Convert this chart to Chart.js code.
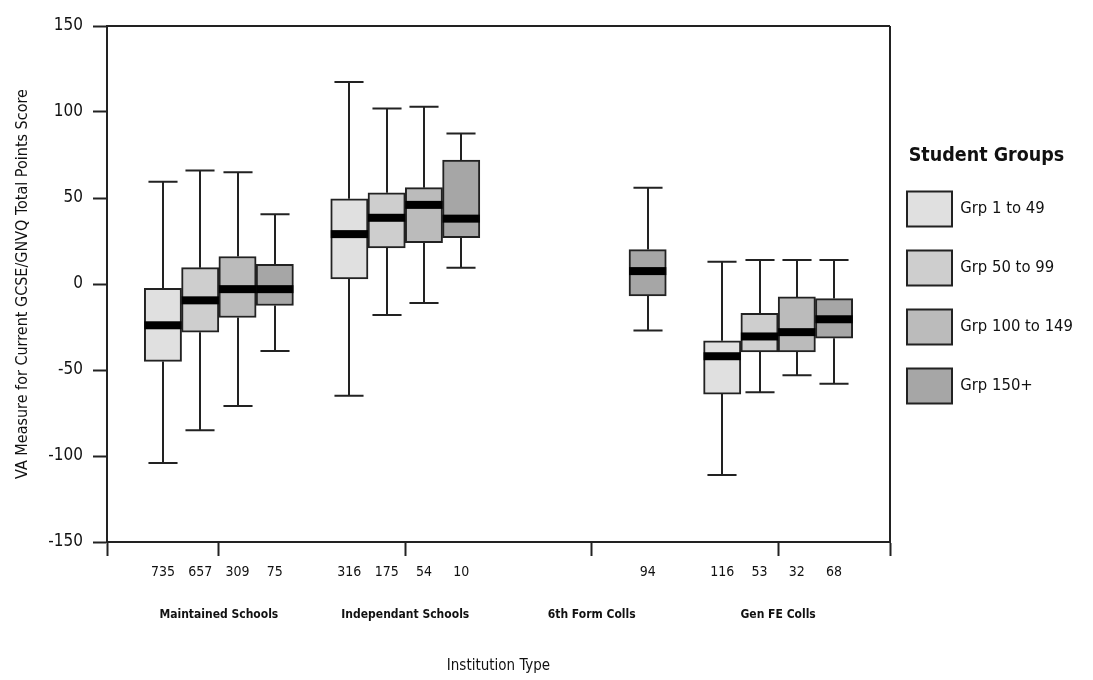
<!DOCTYPE html>
<html>
<head>
<meta charset="utf-8">
<script src="https://cdn.jsdelivr.net/npm/chart.js@4.4.1/dist/chart.umd.min.js"></script>
<style>
  html, body { margin: 0; padding: 0; background: #ffffff; }
  #wrap { width: 1093px; height: 680px; position: relative; }
</style>
</head>
<body>
<div id="wrap"><canvas id="c"></canvas></div>
<script>
// ---------------- DATA ----------------
const institutions = ['Maintained Schools', 'Independant Schools', '6th Form Colls', 'Gen FE Colls'];
const studentGroups = ['Grp 1 to 49', 'Grp 50 to 99', 'Grp 100 to 149', 'Grp 150+'];
const yTickValues = [-150, -100, -50, 0, 50, 100, 150];

// rows = student group, columns = institution (null = no box)
const counts = [
  [735, 316, null, 116],
  [657, 175, null, 53],
  [309, 54, null, 32],
  [75, 10, 94, 68]
];
const whiskerLow = [
  [-104, -65, null, -111],
  [-85, -18, null, -63],
  [-71, -11, null, -53],
  [-39, 9.5, -27, -58]
];
const quartile1 = [
  [-45, 3, null, -64],
  [-28, 21, null, -39.5],
  [-19.5, 24, null, -39.5],
  [-12.5, 27, -7, -31.5]
];
const median = [
  [-24, 29, null, -42],
  [-9.5, 38.5, null, -30.5],
  [-3, 46, null, -28],
  [-3, 38, 7.5, -20.5]
];
const quartile3 = [
  [-2.5, 49.5, null, -33],
  [9.5, 53, null, -17],
  [16, 56, null, -7.5],
  [11.5, 72, 20, -8.5]
];
const whiskerHigh = [
  [59.5, 117.5, null, 13],
  [66, 102, null, 14],
  [65, 103, null, 14],
  [40.5, 87.5, 56, 14]
];

// ---------------- STYLE ----------------
const FONT = "'Liberation Sans Narrow', 'DejaVu Sans Condensed', sans-serif";
const TEXT = '#111111';
const LINE = '#222222';
const fills = ['#e0e0e0', '#cecece', '#bbbbbb', '#a6a6a6'];

// slot layout on a linear x axis: each institution = 4 slots + 1 gap
const SLOTS = 5;
const xMax = institutions.length * SLOTS + 1;
const slotX = (g, s) => g * SLOTS + 1.5 + s;
const groupCenter = g => g * SLOTS + 3;

// build datasets
const datasets = studentGroups.map((name, s) => {
  const data = [];
  institutions.forEach((inst, g) => {
    if (quartile1[s][g] !== null) {
      data.push({ x: slotX(g, s), y: [quartile1[s][g], quartile3[s][g]], g: g });
    }
  });
  return {
    label: name,
    data: data,
    backgroundColor: fills[s],
    borderColor: LINE,
    borderWidth: 2,
    borderSkipped: false,
    grouped: false,
    barPercentage: 1,
    categoryPercentage: 1
  };
});

// count-label ticks
const countTicks = [];
const countLabels = [];
institutions.forEach((inst, g) => {
  studentGroups.forEach((grp, s) => {
    if (counts[s][g] !== null) {
      countTicks.push(slotX(g, s));
      countLabels.push(String(counts[s][g]));
    }
  });
});

// legend width so that the plot frame ends where the reference does
const LEG_FONT = 16.5, LEG_PAD = 17, LEG_BOX_W = 45, LEG_BOX_H = 35;
const mctx = document.createElement('canvas').getContext('2d');
mctx.font = LEG_FONT + 'px ' + FONT;
const maxTextW = Math.max(...studentGroups.map(t => mctx.measureText(t).width));
const legendW = LEG_PAD + LEG_BOX_W + LEG_FONT / 2 + maxTextW + 10;
const padRight = Math.max(0, 1093 - 890 - legendW);

const boxPlugin = {
  id: 'boxExtras',
  beforeDatasetsDraw(chart) {
    const ctx = chart.ctx, y = chart.scales.y;
    ctx.save();
    ctx.strokeStyle = LINE;
    ctx.lineWidth = 2;
    chart.data.datasets.forEach((ds, s) => {
      const meta = chart.getDatasetMeta(s);
      meta.data.forEach((el, i) => {
        const g = ds.data[i].g;
        const cx = Math.round(el.x);
        const half = el.width * 0.39;
        const yHi = y.getPixelForValue(whiskerHigh[s][g]);
        const yLo = y.getPixelForValue(whiskerLow[s][g]);
        const yQ1 = y.getPixelForValue(quartile1[s][g]);
        const yQ3 = y.getPixelForValue(quartile3[s][g]);
        ctx.beginPath();
        ctx.moveTo(cx, yQ3); ctx.lineTo(cx, yHi);
        ctx.moveTo(cx, yQ1); ctx.lineTo(cx, yLo);
        ctx.moveTo(cx - half, yHi); ctx.lineTo(cx + half, yHi);
        ctx.moveTo(cx - half, yLo); ctx.lineTo(cx + half, yLo);
        ctx.stroke();
      });
    });
    ctx.restore();
  },
  afterDatasetsDraw(chart) {
    const ctx = chart.ctx, y = chart.scales.y;
    ctx.save();
    ctx.fillStyle = '#000000';
    chart.data.datasets.forEach((ds, s) => {
      const meta = chart.getDatasetMeta(s);
      meta.data.forEach((el, i) => {
        const g = ds.data[i].g;
        const ym = y.getPixelForValue(median[s][g]);
        ctx.fillRect(el.x - el.width / 2, ym - 4, el.width, 8);
      });
    });
    ctx.restore();
  },
  afterDraw(chart) {
    const ctx = chart.ctx, a = chart.chartArea;
    ctx.save();
    ctx.strokeStyle = LINE;
    ctx.lineWidth = 2;
    ctx.beginPath();
    ctx.moveTo(a.left, a.top); ctx.lineTo(a.right, a.top);
    ctx.moveTo(a.right, a.top); ctx.lineTo(a.right, a.bottom);
    ctx.stroke();
    ctx.restore();
  }
};

new Chart(document.getElementById('c'), {
  type: 'bar',
  data: { datasets: datasets },
  plugins: [boxPlugin],
  options: {
    responsive: true,
    maintainAspectRatio: false,
    animation: false,
    layout: { padding: { top: 26, right: padRight, bottom: 0, left: 0 } },
    plugins: {
      tooltip: { enabled: false },
      legend: {
        position: 'right',
        align: 'start',
        labels: {
          boxWidth: LEG_BOX_W,
          boxHeight: LEG_BOX_H,
          padding: LEG_PAD,
          color: TEXT,
          font: { family: FONT, size: LEG_FONT, lineHeight: 42 / LEG_FONT },
          generateLabels(chart) {
            const items = Chart.defaults.plugins.legend.labels.generateLabels(chart);
            items.forEach(it => { it.text = [it.text]; it.lineWidth = 2; });
            return items;
          }
        },
        title: {
          display: true,
          text: 'Student Groups',
          position: 'center',
          color: TEXT,
          font: { family: FONT, size: 19.5, weight: 'bold' },
          padding: { top: 120, bottom: 5 }
        }
      }
    },
    scales: {
      x: {
        type: 'linear',
        position: 'bottom',
        weight: 0,
        min: 0,
        max: xMax,
        offset: false,
        afterBuildTicks(scale) {
          scale.ticks = [0, ...institutions.map((_, g) => groupCenter(g)), xMax].map(v => ({ value: v }));
        },
        afterFit(scale) { scale.height = 14; },
        ticks: { display: false },
        grid: { display: true, offset: false, drawOnChartArea: false, drawTicks: true, tickLength: 14, tickWidth: 2, tickColor: LINE },
        border: { display: true, color: LINE, width: 2 }
      },
      xCount: {
        type: 'linear',
        position: 'bottom',
        weight: 1,
        min: 0,
        max: xMax,
        offset: false,
        afterBuildTicks(scale) {
          scale.ticks = countTicks.map(v => ({ value: v }));
        },
        afterFit(scale) { scale.height = 30; },
        ticks: {
          autoSkip: false, maxRotation: 0, minRotation: 0, padding: 7.6, color: TEXT,
          font: { family: FONT, size: 14 },
          callback: (v, i) => countLabels[i]
        },
        grid: { display: false, drawTicks: false },
        border: { display: false }
      },
      xGroup: {
        type: 'linear',
        position: 'bottom',
        weight: 2,
        min: 0,
        max: xMax,
        offset: false,
        afterBuildTicks(scale) {
          scale.ticks = institutions.map((_, g) => ({ value: groupCenter(g) }));
        },
        afterFit(scale) { scale.height = 94; },
        ticks: {
          autoSkip: false, maxRotation: 0, minRotation: 0, padding: 21.8, color: TEXT,
          font: { family: FONT, size: 12, weight: 'bold' },
          callback: (v, i) => institutions[i]
        },
        grid: { display: false, drawTicks: false },
        border: { display: false },
        title: {
          display: true,
          text: 'Institution Type',
          color: TEXT,
          font: { family: FONT, size: 15 },
          padding: { top: 0, bottom: 5 }
        }
      },
      y: {
        type: 'linear',
        min: -150,
        max: 150,
        afterBuildTicks(scale) {
          scale.ticks = yTickValues.map(v => ({ value: v }));
        },
        afterFit(scale) { scale.width = 107; },
        ticks: { color: TEXT, padding: 10, font: { family: FONT, size: 17 } },
        grid: { display: true, drawOnChartArea: false, drawTicks: true, tickLength: 14, tickWidth: 2, tickColor: LINE },
        border: { display: true, color: LINE, width: 2 },
        title: {
          display: true,
          text: 'VA Measure for Current GCSE/GNVQ Total Points Score',
          color: TEXT,
          font: { family: FONT, size: 16 },
          padding: { top: 13, bottom: 0 }
        }
      }
    }
  }
});
</script>
</body>
</html>
